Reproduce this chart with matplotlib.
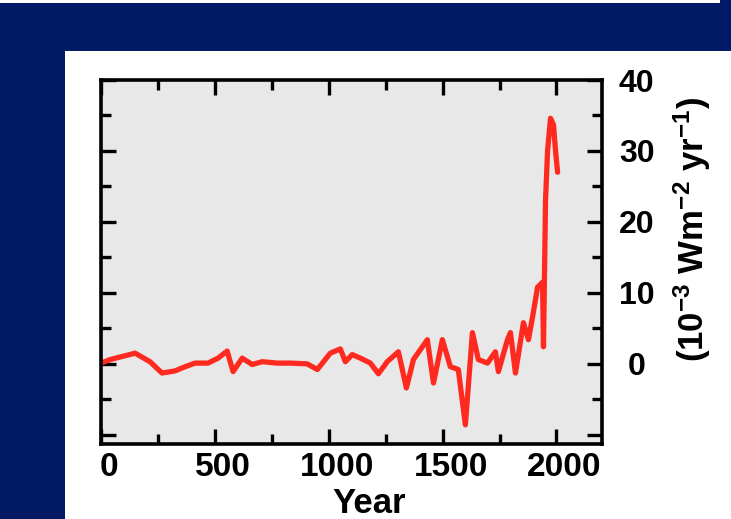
import matplotlib
matplotlib.use('Agg')
import matplotlib.pyplot as plt
from matplotlib.patches import Rectangle
from matplotlib.ticker import MultipleLocator, FixedLocator
import matplotlib.transforms as mtransforms

# Data (year, forcing in 10^-3 W m^-2 yr^-1)
years = [0, 40, 150, 215, 268, 325, 370, 413, 470, 514, 554, 580, 620, 664,
         708, 774, 831, 905, 950, 1007, 1051, 1073, 1103, 1139, 1183, 1218,
         1257, 1306, 1341, 1372, 1433, 1460, 1499, 1534, 1569, 1600, 1631,
         1657, 1697, 1732, 1745, 1785, 1798, 1820, 1855, 1877, 1895, 1917,
         1939, 1943, 1952, 1961, 1974, 1987, 1996, 2005]
forcing = [0.1, 0.6, 1.5, 0.3, -1.3, -1.0, -0.4, 0.1, 0.1, 0.8, 1.8, -1.1,
           0.8, -0.1, 0.3, 0.1, 0.1, 0.0, -0.8, 1.5, 2.1, 0.3, 1.3, 0.8,
           0.1, -1.4, 0.3, 1.7, -3.4, 0.6, 3.4, -2.7, 3.4, -0.4, -0.8, -8.6,
           4.4, 0.6, 0.1, 1.7, -1.1, 3.4, 4.4, -1.3, 5.8, 3.4, 6.6, 10.8,
           11.5, 2.4, 23.0, 30.0, 34.6, 33.7, 30.0, 27.0]

x_ticks = [0, 500, 1000, 1500, 2000]
y_ticks = [0, 10, 20, 30, 40]
x_label = "Year"
y_label = r"(10$^{-3}$ Wm$^{-2}$ yr$^{-1}$)"

navy = '#001a66'

plt.rcParams['font.family'] = ['Liberation Sans', 'DejaVu Sans']
plt.rcParams['font.weight'] = 'bold'
plt.rcParams['mathtext.fontset'] = 'custom'
plt.rcParams['mathtext.rm'] = 'Liberation Sans:bold'
plt.rcParams['mathtext.bf'] = 'Liberation Sans:bold'
plt.rcParams['mathtext.it'] = 'Liberation Sans:bold'
plt.rcParams['mathtext.default'] = 'rm'

W, H = 731, 519
fig = plt.figure(figsize=(W / 100, H / 100), dpi=100, facecolor=navy)

# white panel and top strip
fig.add_artist(Rectangle((65 / W, 0), 1 - 65 / W, (H - 51) / H,
                         transform=fig.transFigure, facecolor='white',
                         edgecolor='none', zorder=0))
fig.add_artist(Rectangle((0, (H - 3) / H), 720 / W, 3 / H,
                         transform=fig.transFigure, facecolor='white',
                         edgecolor='none', zorder=0))

ax = fig.add_axes([101 / W, 1 - 444 / H, (602 - 101) / W, (444 - 80) / H])
ax.set_facecolor('#e8e8e8')

ax.plot(years, forcing, color='#ff2a1f', lw=3.8, solid_joinstyle='round',
        solid_capstyle='round', zorder=3)

ax.set_xlim(0, 2200)
ax.set_ylim(-11.3, 40)

ax.xaxis.set_major_locator(FixedLocator(x_ticks))
ax.xaxis.set_minor_locator(MultipleLocator(250))
ax.yaxis.set_major_locator(FixedLocator(y_ticks + [-10]))
ax.yaxis.set_minor_locator(MultipleLocator(5))

for s in ax.spines.values():
    s.set_linewidth(2.6)
    s.set_color('black')
    s.set_zorder(4)

ax.tick_params(axis='both', which='both', direction='in', top=True,
               right=True, left=True, bottom=True, color='black', width=2.4)
ax.tick_params(which='major', length=11)
ax.tick_params(which='minor', length=7)
ax.tick_params(axis='x', labelsize=24, pad=6)
ax.tick_params(axis='y', labelleft=False, labelright=True, labelsize=23,
               pad=25)

ax.set_xticklabels([str(v) for v in x_ticks], fontweight='bold')
ax.set_yticklabels([str(v) for v in y_ticks] + [''], fontweight='bold')

offset = mtransforms.ScaledTranslation(0.08, 0, fig.dpi_scale_trans)
for lab in ax.get_xticklabels():
    lab.set_transform(lab.get_transform() + offset)
for lab in ax.get_yticklabels(which='major'):
    lab.set_horizontalalignment('center')

ax.set_xlabel(x_label, fontsize=25, fontweight='bold')
ax.xaxis.set_label_coords(0.535, -0.118)
ax.yaxis.set_label_position('right')
ax.set_ylabel(y_label, fontsize=25, fontweight='bold', rotation=90)
ax.yaxis.set_label_coords(1.18, 0.59)
ax.yaxis.label.set_verticalalignment('center')
ax.yaxis.label.set_horizontalalignment('center')

fig.savefig('out.png', dpi=100, facecolor=navy)
